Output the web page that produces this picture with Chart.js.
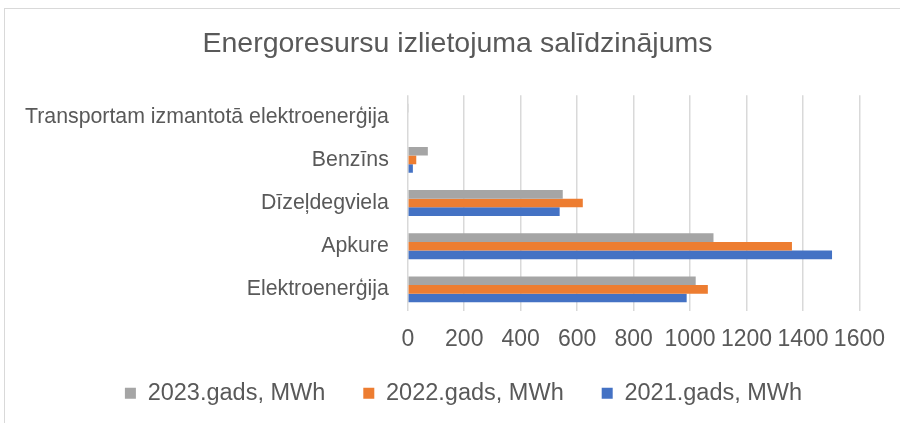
<!DOCTYPE html>
<html>
<head>
<meta charset="utf-8">
<script src="https://cdn.jsdelivr.net/npm/chart.js@4.4.0/dist/chart.umd.min.js"></script>
<style>
  html, body { margin: 0; padding: 0; background: #fff; }
  #wrap { position: relative; width: 900px; height: 423px; }
  #frame { position: absolute; left: 4px; top: 8px; right: 0; bottom: 0;
           border-top: 1px solid #d9d9d9; border-left: 1px solid #d9d9d9; }
  canvas { position: absolute; left: 0; top: 0; }
</style>
</head>
<body>
<div id="wrap">
  <div id="frame"></div>
  <canvas id="energoChart" width="900" height="423"></canvas>
</div>
<script>
// categories, top to bottom as drawn
var categories = ["Transportam izmantotā elektroenerģija", "Benzīns", "Dīzeļdegviela", "Apkure", "Elektroenerģija"];
var seriesNames = ["2023.gads, MWh", "2022.gads, MWh", "2021.gads, MWh"];
var values2023 = [2, 71, 549, 1083, 1020];
var values2022 = [0, 30, 620, 1361, 1063];
var values2021 = [0, 18, 538, 1503, 988];
var xTicks = [0, 200, 400, 600, 800, 1000, 1200, 1400, 1600];

var fontFam = "'Liberation Sans', Arial, sans-serif";
var textCol = "#595959";

// legend keeps wide spacing between items but takes less height,
// title and legend nudged right like in the original
var legendTrim = 25;
var legendShift = 20;
var titleShift = 14;
var layoutTweaks = {
  id: 'layoutTweaks',
  beforeLayout: function(chart){
    var lg = chart.legend;
    if (lg && !lg._trimmed){
      var origFit = lg.fit;
      lg.fit = function(){ origFit.call(this); this.height -= legendTrim; };
      lg._trimmed = true;
    }
  },
  afterLayout: function(chart){
    var lg = chart.legend;
    lg.top -= legendTrim;
    lg.height += legendTrim;
    lg.left += legendShift;
    lg.right += legendShift;
    var tb = chart.titleBlock;
    tb.left += titleShift;
    tb.right += titleShift;
  }
};

var chart = new Chart(document.getElementById("energoChart"), {
  type: 'bar',
  data: {
    labels: categories,
    datasets: [
      { label: seriesNames[0], data: values2023, backgroundColor: "#A5A5A5" },
      { label: seriesNames[1], data: values2022, backgroundColor: "#ED7D31" },
      { label: seriesNames[2], data: values2021, backgroundColor: "#4472C4" }
    ]
  },
  options: {
    indexAxis: 'y',
    responsive: false,
    animation: false,
    datasets: { bar: { categoryPercentage: 0.6, barPercentage: 1.0 } },
    layout: { padding: { left: 6, right: 19, top: 0, bottom: 8 } },
    scales: {
      x: {
        min: xTicks[0],
        max: xTicks[xTicks.length - 1],
        afterBuildTicks: function(axis){ axis.ticks = xTicks.map(function(v){ return { value: v }; }); },
        grid: { color: "#d9d9d9", lineWidth: 1.5, drawTicks: false },
        border: { display: false },
        ticks: { autoSkip: false, maxRotation: 0, padding: 15, color: textCol,
                 font: { family: fontFam, size: 23 },
                 callback: function(v){ return String(v); } }
      },
      y: {
        grid: { display: false, drawTicks: false },
        border: { display: false },
        ticks: { padding: 19, color: textCol, font: { family: fontFam, size: 21.3 } }
      }
    },
    plugins: {
      title: {
        display: true,
        text: "Energoresursu izlietojuma salīdzinājums",
        color: textCol,
        font: { family: fontFam, size: 28.5, weight: 'normal' },
        padding: { top: 27, bottom: 34 }
      },
      legend: {
        position: 'bottom',
        labels: { boxWidth: 11, boxHeight: 11, padding: 38, color: textCol,
                  font: { family: fontFam, size: 23.5 } }
      },
      tooltip: { enabled: false }
    }
  },
  plugins: [layoutTweaks]
});
</script>
</body>
</html>
